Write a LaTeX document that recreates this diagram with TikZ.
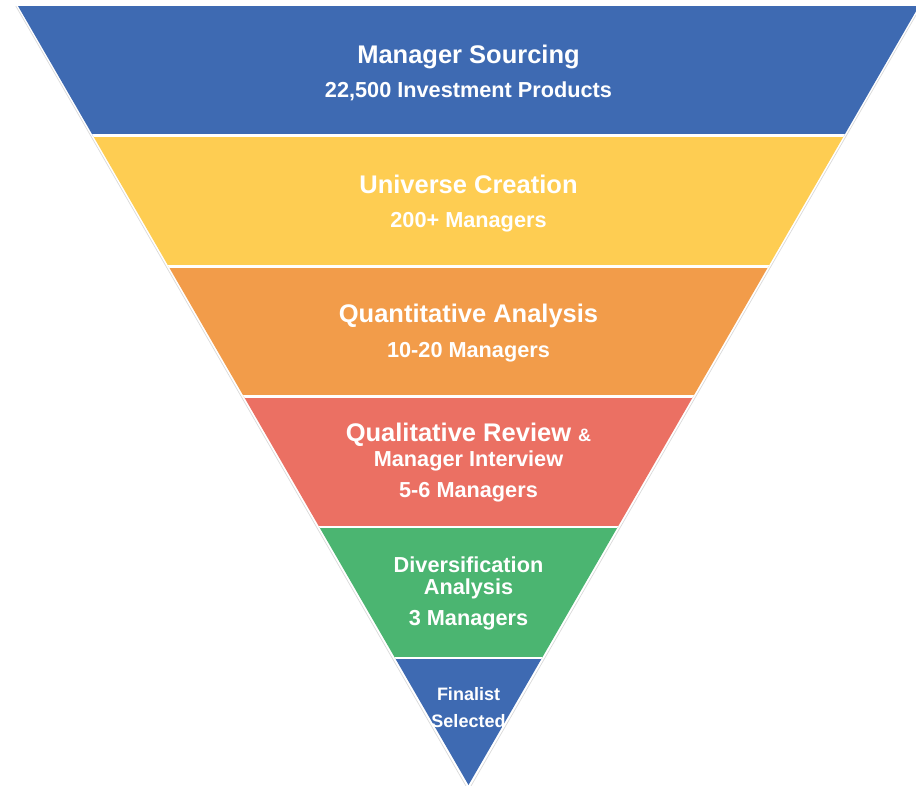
\documentclass[tikz,border=0pt]{standalone}
\usepackage{fontspec}
\setmainfont{Liberation Sans}
\definecolor{fblue}{HTML}{3E6AB2}
\definecolor{fyellow}{HTML}{FECD52}
\definecolor{forange}{HTML}{F29C4A}
\definecolor{fred}{HTML}{EB7063}
\definecolor{fgreen}{HTML}{4BB571}
\tikzset{
  ttl/.style={anchor=base, inner sep=0pt, text=white, font=\bfseries\fontsize{25.5}{30}\selectfont},
  sub/.style={anchor=base, inner sep=0pt, text=white, font=\bfseries\fontsize{21.7}{26}\selectfont},
  fin/.style={anchor=base, inner sep=0pt, text=white, font=\bfseries\fontsize{18}{22}\selectfont},
  gapline/.style={white, line width=2.2pt},
  rim/.style={gray!30, line width=0.7pt}
}
\begin{document}
\begin{tikzpicture}[x=1pt,y=-1pt]
\useasboundingbox (0,0) rectangle (916,785);
% faint outer rim
\draw[rim] (15.8,6) -- (466.6,787);
\draw[rim] (921.2,6) -- (470.4,787);
\begin{scope}
  \clip (18,6) -- (919,6) -- (468.5,785) -- cycle;
  \fill[fblue]   (0,0)     rectangle (930,135.5);
  \fill[fyellow] (0,135.5) rectangle (930,266.5);
  \fill[forange] (0,266.5) rectangle (930,396.5);
  \fill[fred]    (0,396.5) rectangle (930,527.2);
  \fill[fgreen]  (0,527.2) rectangle (930,658.2);
  \fill[fblue]   (0,658.2) rectangle (930,790);
  \draw[gapline] (0,135.5) -- (930,135.5);
  \draw[gapline] (0,266.5) -- (930,266.5);
  \draw[gapline] (0,396.5) -- (930,396.5);
  \draw[gapline] (0,527.2) -- (930,527.2);
  \draw[gapline] (0,658.2) -- (930,658.2);
\end{scope}
% texts
\node[ttl] (t1) at (468.5,63) {Manager Sourcing};
\node[sub] (s1) at (468.5,97) {22,500 Investment Products};
\node[ttl] (t2) at (468.5,193) {Universe Creation};
\node[sub] (s2) at (468.5,227.5) {200+ Managers};
\node[ttl] (t3) at (468.5,322) {Quantitative Analysis};
\node[sub] (s3) at (468.5,357) {10-20 Managers};
\node[ttl] (t4) at (468.5,441) {Qualitative Review {\fontsize{18}{22}\selectfont\&}};
\node[sub] (t4b) at (468.5,466) {Manager Interview};
\node[sub] (s4) at (468.5,497.5) {5-6 Managers};
\node[sub] (t5) at (468.5,572) {Diversification};
\node[sub] (t5b) at (468.5,594.5) {Analysis};
\node[sub] (s5) at (468.5,625.5) {3 Managers};
\node[fin] (t6) at (468.5,700) {Finalist};
\node[fin] (t6b) at (468.5,727) {Selected};
\end{tikzpicture}
\end{document}
